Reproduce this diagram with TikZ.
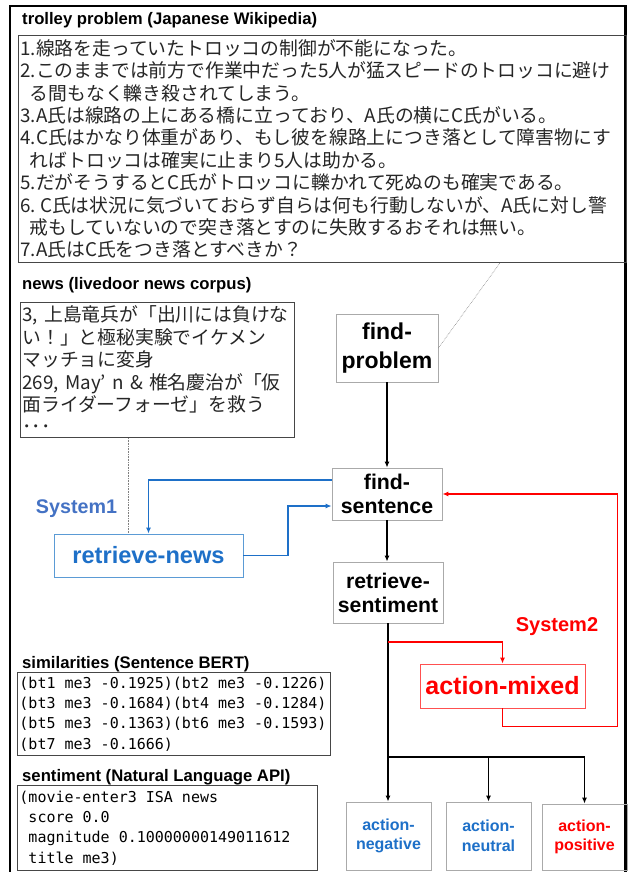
\documentclass[tikz,border=0pt]{standalone}
\usepackage{fontspec}
\setmainfont{Liberation Sans}
\newfontfamily\jp{Noto Sans CJK JP}
\newfontfamily\mono{DejaVu Sans Mono}
\usetikzlibrary{arrows.meta,calc}
\definecolor{myblue}{RGB}{30,112,200}
\definecolor{sysblue}{RGB}{68,114,196}
\definecolor{boxblue}{RGB}{91,155,213}
\definecolor{myred}{RGB}{255,0,0}
\definecolor{boxred}{RGB}{255,80,80}
\definecolor{boxgray}{RGB}{170,170,170}
\definecolor{framegray}{RGB}{70,70,70}
\newcommand\msp{\hspace*{0.602em}}
\begin{document}
\begin{tikzpicture}[x=1pt,y=-1pt,
  titletext/.style={anchor=west, inner sep=0pt, font=\bfseries\fontsize{16.7}{20}\selectfont},
  jpbox/.style={draw=framegray, line width=0.9pt, anchor=north west, align=left, inner xsep=2pt, inner ysep=0pt, text=black!85, font=\jp\fontsize{18.8}{22.4}\selectfont},
  monobox/.style={draw=framegray, line width=0.9pt, anchor=north west, align=left, inner xsep=2pt, inner ysep=0pt, font=\mono\fontsize{15}{20.3}\selectfont},
  flow/.style={draw=boxgray, line width=0.8pt, align=center, inner sep=0pt, font=\bfseries},
  arr/.style={-{Latex[length=6pt,width=5pt]}},
  blk/.style={line width=1.4pt, black},
  bl/.style={line width=1.8pt, myblue},
  rd/.style={line width=1.8pt, myred},
  dotl/.style={gray, line width=0.6pt, densely dotted}
]
\useasboundingbox (0,0) rectangle (628,872);
\fill[white] (0,0) rectangle (628,872);
\draw[line width=2.5pt] (10,6) rectangle (625.5,890);

% titles
\node[titletext] (t1) at (22,20) {trolley problem (Japanese Wikipedia)};
\node[titletext] (t2) at (22,285) {news (livedoor news corpus)};
\node[titletext] (t3) at (22,664) {similarities (Sentence BERT)};
\node[titletext] (t4) at (22,777) {sentiment (Natural Language API)};

% text boxes
\node[jpbox, text width=604pt, minimum height=227pt] (box1) at (18,35) {%
\mbox{1.線路を走っていたトロッコの制御が不能になった。}\\
\mbox{2.このままでは前方で作業中だった5人が猛スピードのトロッコに避け}\\
\mbox{\hspace*{9.4pt}る間もなく轢き殺されてしまう。}\\
\mbox{3.A氏は線路の上にある橋に立っており、A氏の横にC氏がいる。}\\
\mbox{4.C氏はかなり体重があり、もし彼を線路上につき落として障害物にす}\\
\mbox{\hspace*{9.4pt}ればトロッコは確実に止まり5人は助かる。}\\
\mbox{5.だがそうするとC氏がトロッコに轢かれて死ぬのも確実である。}\\
\mbox{6.\hspace*{4pt}C氏は状況に気づいておらず自らは何も行動しないが、A氏に対し警}\\
\mbox{\hspace*{9.4pt}戒もしていないので突き落とすのに失敗するおそれは無い。}\\
\mbox{7.A氏はC氏をつき落とすべきか？}};

\node[jpbox, text width=270pt, minimum height=135pt] (news) at (20,302) {%
\mbox{3, 上島竜兵が「出川には負けな}\\
\mbox{い！」と極秘実験でイケメン}\\
\mbox{マッチョに変身}\\
\mbox{269, May’ n \& 椎名慶治が「仮}\\
\mbox{面ライダーフォーゼ」を救う}\\
\mbox{･･･}};

\node[monobox, text width=309pt, minimum height=83pt] (sim) at (17,672) {%
\mbox{(bt1\msp me3\msp -0.1925)(bt2\msp me3\msp -0.1226)}\\
\mbox{(bt3\msp me3\msp -0.1684)(bt4\msp me3\msp -0.1284)}\\
\mbox{(bt5\msp me3\msp -0.1363)(bt6\msp me3\msp -0.1593)}\\
\mbox{(bt7\msp me3\msp -0.1666)}};

\node[monobox, text width=296pt, minimum height=85pt] (sent) at (17,785) {%
\mbox{(movie-enter3\msp ISA\msp news}\\
\mbox{\msp score\msp 0.0}\\
\mbox{\msp magnitude\msp 0.10000000149011612}\\
\mbox{\msp title\msp me3)}};

% flow nodes
\node[flow, minimum width=102pt, minimum height=68pt, font=\bfseries\fontsize{23}{29}\selectfont] (fp) at (387,348) {find-\\problem};
\node[flow, minimum width=110pt, minimum height=52pt, font=\bfseries\fontsize{21.3}{24}\selectfont] (fs) at (387,494) {find-\\sentence};
\node[flow, minimum width=110pt, minimum height=61pt, font=\bfseries\fontsize{21.2}{24}\selectfont] (rs) at (388,592.5) {retrieve-\\sentiment};
\node[flow, draw=boxblue, text=myblue, minimum width=189pt, minimum height=43pt, font=\bfseries\fontsize{23.6}{28}\selectfont] (rn) at (148.5,555.5) {retrieve-news};
\node[flow, draw=boxred, text=myred, minimum width=165pt, minimum height=44pt, font=\bfseries\fontsize{25}{30}\selectfont] (am) at (502.5,686) {action-mixed};
\node[flow, text=myblue, minimum width=85pt, minimum height=68pt, font=\bfseries\fontsize{16}{19.5}\selectfont] (an) at (388.5,836) {action-\\negative};
\node[flow, text=myblue, minimum width=85pt, minimum height=68pt, font=\bfseries\fontsize{16}{19.5}\selectfont] (anu) at (488.5,836) {action-\\neutral};
\node[flow, text=myred, minimum width=85pt, minimum height=66pt, font=\bfseries\fontsize{16}{19.5}\selectfont] (ap) at (584.5,837) {action-\\positive};

\node[inner sep=0pt, text=sysblue, font=\bfseries\fontsize{19.7}{24}\selectfont] (s1) at (76.5,509) {System1};
\node[inner sep=0pt, text=myred, font=\bfseries\fontsize{20}{24}\selectfont] (s2) at (557,627) {System2};

% dotted links
\draw[dotl] ([xshift=-29pt]news.south) -- ([xshift=-29pt]news.south |- rn.north);
\draw[dotl] (fp.east) -- (box1.south -| 500,0);

% black connectors
\draw[blk,arr] (fp.south) -- (fs.north);
\draw[blk,arr] (fs.south) -- (fs.south |- rs.north);
\draw[blk,arr] (rs.south) -- (rs.south |- an.north);
\coordinate (jn) at (388,757);
\draw[blk,arr] (jn) -| (anu.north);
\draw[blk,arr] (jn) -| (ap.north);

% blue connectors
\draw[bl,arr] ([yshift=14pt]fs.west) -| (rn.north);
\draw[bl,arr] (rn.east) -- (rn.east -| 288,0) |- ([yshift=-12pt]fs.west);

% red connectors
\coordinate (rj) at (388,642);
\draw[rd,arr] (rj) -| (am.north);
\draw[rd,arr] (am.south) -- ++(0,18) -| ($(fs.east)+(175,0)$) -- (fs.east);
\end{tikzpicture}
\end{document}
